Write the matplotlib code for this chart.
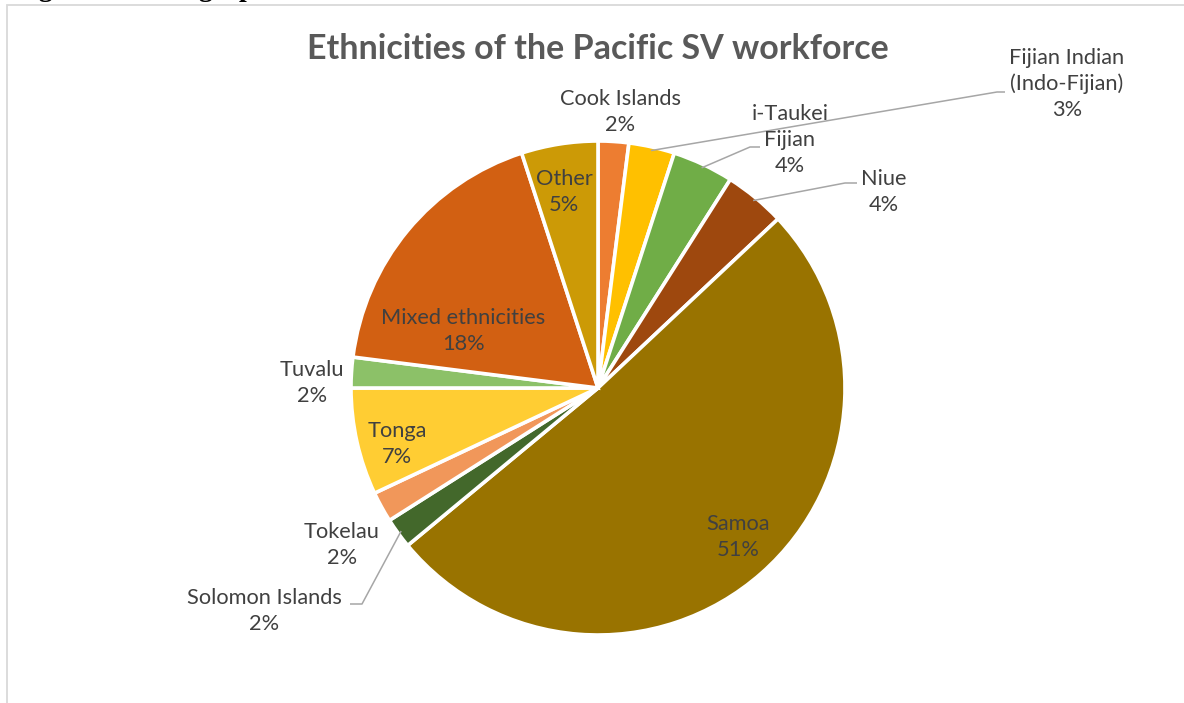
import numpy as np
import matplotlib.pyplot as plt
from matplotlib.patches import Rectangle

W, H = 1184, 703

# Pacific SV workforce by ethnicity (%)
categories = ['Cook Islands', 'Fijian Indian\n(Indo-Fijian)', 'i-Taukei\nFijian', 'Niue',
              'Samoa', 'Solomon Islands', 'Tokelau', 'Tonga', 'Tuvalu',
              'Mixed ethnicities', 'Other']
shares = [2, 3, 4, 4, 51, 2, 2, 7, 2, 18, 5]

colors = ['#ED7D31', '#FFC000', '#70AD47', '#9E480E', '#997300', '#43682B',
          '#F1975A', '#FFCD33', '#8CC168', '#D26012', '#CC9A06']

# label block centres in pixels (x from left, y from top)
label_xy = [(620, 112), (1067, 84), (790, 140), (884, 192), (738, 537),
            (264, 611), (342, 545), (397, 444), (312, 383), (463, 331), (564, 192)]
# leader line bend points (elbow, end) in pixels, None = no leader
leaders = [None, ((997, 92), (1005, 92)), ((750, 147), (760, 147)),
           ((845, 183), (857, 183)), None, ((362, 604), (350, 604)),
           None, None, None, None, None]

cx, cy, R = 598, 388, 247


def px(x, y):
    return x, H - y


fig = plt.figure(figsize=(W / 100, H / 100), dpi=100)
ax = fig.add_axes([0, 0, 1, 1])

wedges, _ = ax.pie(shares, colors=colors, startangle=90, counterclock=False,
                   center=px(cx, cy), radius=R,
                   wedgeprops=dict(edgecolor='white', linewidth=2.6))
# pie() resets the limits, so set the pixel frame afterwards
ax.set_xlim(0, W)
ax.set_ylim(0, H)
ax.set_aspect('equal')
ax.axis('off')

font = 'Lato'
for w, name, val, (lx, ly), ld in zip(wedges, categories, shares, label_xy, leaders):
    ax.text(*px(lx, ly), f'{name}\n{val}%', ha='center', va='center',
            fontsize=15.7, family=font, color='#404040', linespacing=1.37)
    if ld is not None:
        mid = np.deg2rad((w.theta1 + w.theta2) / 2)
        x0 = cx + R * 0.985 * np.cos(mid)
        y0 = cy - R * 0.985 * np.sin(mid)
        xs = [x0, ld[0][0], ld[1][0]]
        ys = [H - y0, H - ld[0][1], H - ld[1][1]]
        ax.plot(xs, ys, color='#A6A6A6', lw=1.1, solid_capstyle='butt')

ax.text(*px(598, 49), 'Ethnicities of the Pacific SV workforce', ha='center',
        va='center', fontsize=24.5, fontweight='bold', family=font, color='#595959')

# chart border and the caption line above it
fig.patches.append(Rectangle((7 / W, -0.1), 1.2, 1.1 - 5 / H, transform=fig.transFigure,
                             fill=False, edgecolor='#D9D9D9', lw=1.3))
fig.text(14 / W, 1 + 4 / H, 'Figure 3: Demographics', family='Liberation Serif',
         fontweight='bold', fontsize=20, va='baseline', ha='left', color='black')

fig.savefig('out.png', dpi=100)
